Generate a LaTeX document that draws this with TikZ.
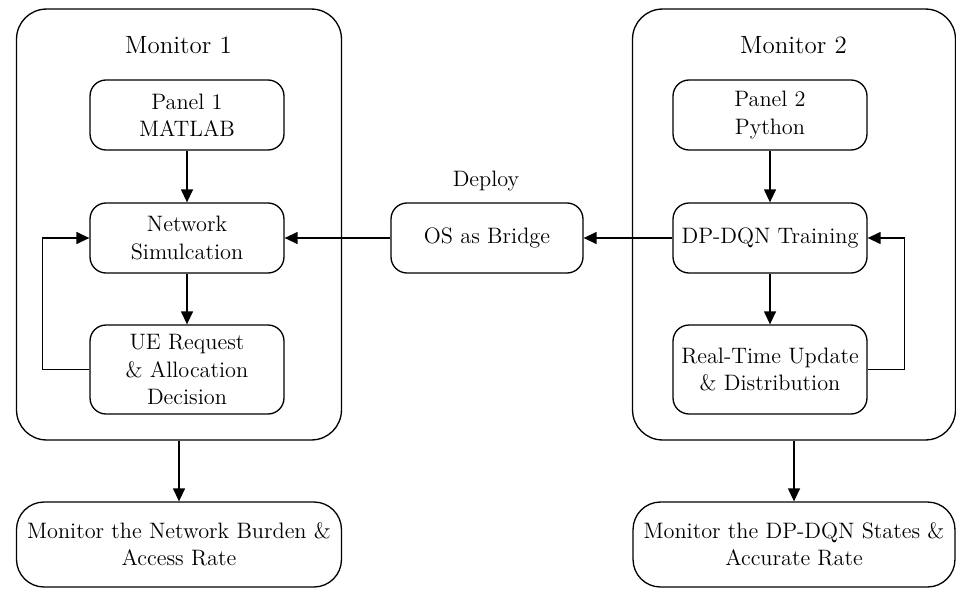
\documentclass[tikz,border=0pt]{standalone}
\usepackage{fontspec}
\usetikzlibrary{shapes}
\usetikzlibrary{arrows.meta}

\begin{document}
\begin{tikzpicture}[x=0.02cm,y=-0.02cm,line width=0.75pt,>={Triangle[length=0.26cm,width=0.24cm]}]
					\tikzstyle{every node}=[align=center,inner sep=0pt,font=\fontsize{12.7}{15.5}\selectfont]
					\tikzstyle{monitor}=[draw,rounded corners=0.6cm,minimum width=6.5cm,minimum height=8.62cm]
					\tikzstyle{block}=[draw,rounded corners=0.32cm,minimum width=3.88cm,minimum height=1.4cm]
					\tikzstyle{tall}=[block,minimum height=1.78cm]
					\tikzstyle{result}=[draw,rounded corners=0.55cm,minimum width=6.5cm,minimum height=1.7cm]
					\tikzstyle{title}=[font=\fontsize{14.2}{17}\selectfont]
					
					\useasboundingbox (0,0) rectangle (956,588);
					
					% left side: MATLAB
					\node[monitor] (mon1) at (179,224.5) {};
					\node[title] (title1) at (178.5,45) {Monitor 1};
					\node[block] (panel1) at (187,115) {Panel 1\\MATLAB};
					\node[block] (net1) at (187,238) {Network\\Simulcation};
					\node[tall] (ue1) at (187,369.5) {UE Request\\\& Allocation\\Decision};
					\node[result] (res1) at (179,544.5) {Monitor the Network Burden \&\\Access Rate};
					
					% bridge
					\node[block,minimum width=3.84cm] (os) at (487,238) {OS as Bridge};
					\node (deploy) at (486,181) {Deploy};
					
					% right side: Python
					\node[monitor,minimum width=6.46cm] (mon2) at (794,224.5) {};
					\node[title] (title2) at (793.5,45) {Monitor 2};
					\node[block] (panel2) at (770,115) {Panel 2\\Python};
					\node[block] (train) at (770,238) {DP-DQN Training};
					\node[tall] (rt) at (770,369.5) {Real-Time Update\\\& Distribution};
					\node[result,minimum width=6.44cm] (res2) at (794,544.5) {Monitor the DP-DQN States \&\\Accurate Rate};
					
					\draw[->] (panel1) -- (net1);
					\draw[->] (net1) -- (ue1);
					\draw[->] (ue1.west) -- ++(-47,0) |- (net1.west);
					\draw[->] (os) -- (net1);
					\draw[->] (train) -- (os);
					\draw[->] (panel2) -- (train);
					\draw[->] (train) -- (rt);
					\draw[->] (rt.east) -- ++(37,0) |- (train.east);
					\draw[->] (mon1) -- (res1);
					\draw[->] (mon2) -- (res2);
					
					;\end{tikzpicture}
\end{document}
